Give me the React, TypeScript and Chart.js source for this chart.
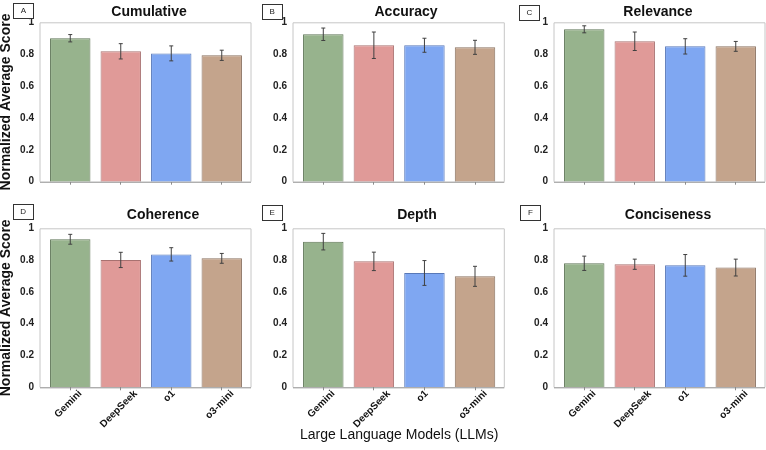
import React, { useEffect, useRef } from "react";
import { Chart, registerables } from "chart.js";

Chart.register(...registerables);

const models = ["Gemini", "DeepSeek", "o1", "o3-mini"];

const cumulativeScores = [0.9, 0.818, 0.805, 0.793];
const cumulativeErrors = [0.023, 0.048, 0.047, 0.032];
const accuracyScores = [0.925, 0.856, 0.856, 0.843];
const accuracyErrors = [0.039, 0.083, 0.044, 0.044];
const relevanceScores = [0.956, 0.881, 0.849, 0.849];
const relevanceErrors = [0.022, 0.058, 0.048, 0.031];
const coherenceScores = [0.931, 0.801, 0.836, 0.811];
const coherenceErrors = [0.031, 0.048, 0.042, 0.031];
const depthScores = [0.916, 0.792, 0.719, 0.698];
const depthErrors = [0.052, 0.058, 0.078, 0.063];
const concisenessScores = [0.78, 0.774, 0.767, 0.753];
const concisenessErrors = [0.045, 0.032, 0.068, 0.053];

const yTitle = "Normalized Average Score";
const xTitle = "Large Language Models (LLMs)";

const fills = ["#97b38d", "#e09a98", "#7fa7f2", "#c4a48c"];
const borders = ["#5f7657", "#a87170", "#5878b8", "#8a7261"];
const FONT = "'Liberation Sans', Arial, sans-serif";

// grid geometry (page px)
const colLeft = [0, 255, 510];
const colWidth = [255, 255, 256];
const areaLeft = [45, 298, 559];
const areaRight = [247, 500.3, 761];
const rowTop = [0, 200];
const rowHeight = [200, 250];
const areaTop = [22.3, 228.3];
const areaBottom = [181.7, 387.3];

interface PanelDef {
  letter: string;
  title: string;
  scores: number[];
  errors: number[];
  col: number;
  row: number;
  titleX: number;
  boxX: number;
  boxY: number;
}

const panels: PanelDef[] = [
  { letter: "A", title: "Cumulative", scores: cumulativeScores, errors: cumulativeErrors, col: 0, row: 0, titleX: 149, boxX: 13, boxY: 3 },
  { letter: "B", title: "Accuracy", scores: accuracyScores, errors: accuracyErrors, col: 1, row: 0, titleX: 151, boxX: 6.7, boxY: 4 },
  { letter: "C", title: "Relevance", scores: relevanceScores, errors: relevanceErrors, col: 2, row: 0, titleX: 148, boxX: 9, boxY: 5 },
  { letter: "D", title: "Coherence", scores: coherenceScores, errors: coherenceErrors, col: 0, row: 1, titleX: 163, boxX: 12.7, boxY: 4 },
  { letter: "E", title: "Depth", scores: depthScores, errors: depthErrors, col: 1, row: 1, titleX: 162, boxX: 6.7, boxY: 5 },
  { letter: "F", title: "Conciseness", scores: concisenessScores, errors: concisenessErrors, col: 2, row: 1, titleX: 158, boxX: 10, boxY: 5 },
];

const Panel: React.FC<{ p: PanelDef }> = ({ p }) => {
  const canvasRef = useRef<HTMLCanvasElement | null>(null);
  const { col, row } = p;
  const left = colLeft[col];
  const top = rowTop[row];
  const width = colWidth[col];
  const height = rowHeight[row];

  useEffect(() => {
    if (!canvasRef.current) return;
    const ctx = canvasRef.current.getContext("2d");
    if (!ctx) return;

    const decor = {
      id: "decor",
      afterDatasetsDraw(chart: any) {
        const c = chart.ctx;
        const { left: l, right: r, top: t, bottom: b } = chart.chartArea;
        // frame
        c.save();
        c.lineWidth = 1;
        c.strokeStyle = "#c6c6c6";
        c.beginPath();
        c.moveTo(l - 5, b);
        c.lineTo(l - 5, t + 0.5);
        c.lineTo(r + 4, t + 0.5);
        c.lineTo(r + 4, b);
        c.stroke();
        c.strokeStyle = "#8c8c8c";
        c.beginPath();
        c.moveTo(l - 5, b + 0.5);
        c.lineTo(r + 4, b + 0.5);
        c.stroke();
        // error bars
        const ys = chart.scales.y;
        const meta = chart.getDatasetMeta(0);
        c.strokeStyle = "#404040";
        p.scores.forEach((v, i) => {
          const x = meta.data[i].x;
          const y1 = ys.getPixelForValue(v + p.errors[i]);
          const y2 = ys.getPixelForValue(v - p.errors[i]);
          c.beginPath();
          c.moveTo(x, y1);
          c.lineTo(x, y2);
          c.moveTo(x - 2, y1);
          c.lineTo(x + 2, y1);
          c.moveTo(x - 2, y2);
          c.lineTo(x + 2, y2);
          c.stroke();
        });
        c.restore();
      },
      afterDraw(chart: any) {
        const c = chart.ctx;
        c.save();
        // title
        c.fillStyle = "#111";
        c.font = `bold 14px ${FONT}`;
        c.textAlign = "center";
        c.textBaseline = "middle";
        c.fillText(p.title, p.titleX, row === 0 ? 12 : 15);
        // letter box
        c.fillStyle = "#fff";
        c.fillRect(p.boxX, p.boxY, 20, 15);
        c.strokeStyle = "#333";
        c.lineWidth = 1;
        c.strokeRect(Math.round(p.boxX) + 0.5, Math.round(p.boxY) + 0.5, 20, 15);
        c.fillStyle = "#222";
        c.font = `8px ${FONT}`;
        c.fillText(p.letter, p.boxX + 10.5, p.boxY + 8);
        // rotated category labels on bottom row
        if (row === 1) {
          const xs = chart.scales.x;
          const yTop = chart.chartArea.bottom + 2;
          c.font = `bold 10px ${FONT}`;
          c.fillStyle = "#111";
          models.forEach((m, i) => {
            const px = xs.getPixelForValue(i);
            const w = c.measureText(m).width;
            const d = (0.7071 * (w + 8)) / 2;
            c.save();
            c.translate(px - 2, yTop + d);
            c.rotate(-Math.PI / 4);
            c.fillText(m, 0, 0);
            c.restore();
          });
        }
        c.restore();
      },
    };

    const chart = new Chart(ctx, {
      type: "bar",
      data: {
        labels: models,
        datasets: [
          {
            data: p.scores,
            backgroundColor: fills,
            borderColor: borders,
            borderWidth: 1,
            categoryPercentage: 1,
            barPercentage: 0.8,
          },
        ],
      },
      options: {
        responsive: true,
        maintainAspectRatio: false,
        animation: false,
        layout: {
          padding: {
            left: 0,
            top: areaTop[row] - top,
            right: left + width - areaRight[col],
            bottom: 0,
          },
        },
        plugins: {
          legend: { display: false },
          tooltip: { enabled: false },
        },
        scales: {
          x: {
            afterFit: (s: any) => {
              s.height = top + height - areaBottom[row];
            },
            grid: {
              display: true,
              drawOnChartArea: false,
              drawTicks: true,
              tickLength: 3,
              color: "#8c8c8c",
              offset: false,
            },
            border: { display: false },
            ticks: { display: false },
            title: {
              display: row === 1 && col === 1,
              text: xTitle,
              color: "#111",
              font: { family: FONT, size: 14 },
              padding: { top: 0, bottom: 6 },
            },
          },
          y: {
            min: 0,
            max: 1,
            afterFit: (s: any) => {
              s.width = areaLeft[col] - left;
            },
            grid: { display: false, drawTicks: false },
            border: { display: false },
            ticks: {
              stepSize: 0.2,
              padding: 11,
              color: "#222",
              font: { family: FONT, size: 10, weight: "bold" },
              callback: (v: any) => String(Math.round(Number(v) * 10) / 10),
            },
            title: {
              display: col === 0,
              text: yTitle,
              color: "#111",
              font: { family: FONT, size: 14, weight: "bold" },
              padding: { top: -2, bottom: 0 },
            },
          },
        },
      },
      plugins: [decor],
    });

    return () => {
      chart.destroy();
    };
  }, [p]);

  return (
    <div style={{ position: "absolute", left, top, width, height }}>
      <canvas ref={canvasRef}></canvas>
    </div>
  );
};

const App: React.FC = () => {
  return (
    <div style={{ position: "fixed", left: 0, top: 0, width: 766, height: 450, background: "#fff" }}>
      {panels.map((p) => (
        <Panel key={p.letter} p={p} />
      ))}
    </div>
  );
};

export default App;
